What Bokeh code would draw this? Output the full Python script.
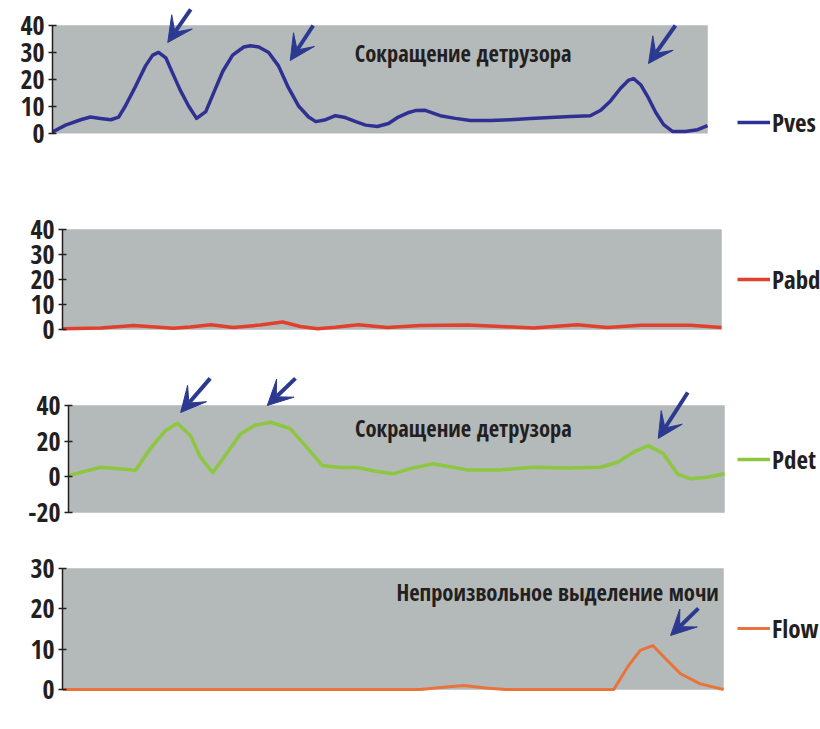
from bokeh.plotting import figure
from bokeh.models import (BoxAnnotation, Label, Arrow, VeeHead, Legend, LegendItem,
                          FixedTicker, Range1d)
from bokeh.embed import file_html
from bokeh.resources import INLINE

# ---------------- data (time in % of record) ----------------
pves_t = [0, 2, 4.3, 5.8, 7.3, 8.9, 10.1, 11.1, 12.7, 14.2, 15.3, 16.2, 17.3, 18.3, 19.5,
          20.8, 22.0, 23.4, 24.6, 26.0, 27.5, 29.2, 30.2, 31.5, 33.0, 34.5, 36.0, 37.6, 39.1,
          40.2, 41.7, 43.2, 44.7, 46.3, 47.8, 49.6, 51.3, 52.8, 54.4, 55.4, 56.9, 59.2, 61.5,
          63.8, 66.9, 69.9, 73.0, 76.0, 79.1, 82.1, 83.7, 85.2, 86.7, 87.9, 88.7, 89.8, 91.0,
          92.1, 93.3, 94.7, 96.6, 98.5, 100]
pves_v = [0.5, 3, 5, 6, 5.5, 5, 6, 10, 17.5, 25, 29, 30, 28, 22.5, 16,
          10, 5.5, 8, 15, 23, 29, 32, 32.5, 32, 30, 25, 17, 10, 6,
          4.3, 5, 6.5, 5.8, 4.3, 3, 2.5, 3.6, 6, 7.7, 8.4, 8.5, 6.5, 5.5,
          4.7, 4.7, 5, 5.5, 5.8, 6.2, 6.5, 8.5, 12, 16.6, 19.6, 20.3, 18, 13,
          7.7, 3.2, 0.6, 0.6, 1.3, 2.8]

pabd_t = [0, 5.8, 10.8, 14.1, 16.8, 19.4, 22.5, 25.9, 30.0, 33.4, 36.1, 38.7, 41.4, 44.9,
          49.3, 54.3, 61.5, 66.5, 71.5, 78.1, 82.7, 87.7, 95.3, 100]
pabd_v = [0.3, 0.6, 1.6, 1.0, 0.5, 1.0, 1.9, 0.8, 1.8, 3.0, 1.2, 0.3, 0.9, 1.9,
          0.8, 1.6, 1.8, 1.2, 0.6, 1.9, 0.8, 1.7, 1.7, 0.8]

pdet_t = [0, 4.9, 9.5, 10.2, 12.5, 14.8, 16.6, 18.6, 20.1, 22.0, 23.9, 26.2, 28.5, 30.8,
          33.8, 36.1, 38.7, 41.5, 44.1, 46.8, 49.5, 52.1, 55.6, 60.8, 65.9, 70.9, 76.1,
          81.1, 83.7, 86.1, 88.4, 90.7, 92.8, 94.8, 97.4, 100]
pdet_v = [0.7, 5.4, 4.0, 3.5, 16, 26, 30, 23, 11, 2.4, 12, 24, 29, 30.6,
          27, 17.5, 6.3, 5.2, 5.2, 3.1, 1.7, 4.6, 7.3, 3.9, 3.9, 5.4, 5.0,
          5.4, 8.2, 13.8, 17.5, 12.9, 1.7, -1.1, -0.2, 1.7]

flow_t = [0, 54.2, 57.2, 60.7, 64.0, 67.0, 83.4, 85.5, 87.4, 89.3, 91.5, 93.5, 96.5, 100]
flow_v = [0, 0, 0.5, 1.0, 0.4, 0, 0, 5.6, 9.7, 10.9, 7.2, 3.9, 1.4, 0]

series_names = ["Pves", "Pabd", "Pdet", "Flow"]
ticks_pves = [0, 10, 20, 30, 40]
ticks_pabd = [0, 10, 20, 30, 40]
ticks_pdet = [-20, 0, 20, 40]
ticks_flow = [0, 10, 20, 30]

note_contraction = "Сокращение детрузора"
note_leak = "Непроизвольное выделение мочи"

# ---------------- styling ----------------
FONT = "'Open Sans Condensed', 'DejaVu Sans Condensed', sans-serif"
TXT = "#231f20"
GRAY = "#b4b9b9"
ARROW = "#2b3990"
W = 820


def panel(fig_top, fig_bottom, frame_top, frame_bottom, gray_left, gray_right,
          v_lo, v_hi, y_lo_px, y_hi_px, ticks):
    sx = (gray_right - gray_left) / 100.0
    sy = (y_lo_px - y_hi_px) / float(v_hi - v_lo)
    x_end = (W - gray_left) / sx
    y_start = v_lo - (frame_bottom - y_lo_px) / sy
    y_end = v_hi + (y_hi_px - frame_top) / sy
    p = figure(width=W, height=fig_bottom - fig_top, output_backend="svg",
               toolbar_location=None, x_axis_location=None,
               x_range=Range1d(0, x_end), y_range=Range1d(y_start, y_end),
               min_border_left=gray_left, min_border_right=0,
               min_border_top=frame_top - fig_top,
               min_border_bottom=fig_bottom - frame_bottom)
    p.outline_line_color = None
    p.grid.visible = False
    p.background_fill_color = "white"
    p.border_fill_color = "white"
    ax = p.yaxis[0]
    ax.ticker = FixedTicker(ticks=ticks)
    ax.major_label_overrides = {t: str(t) for t in ticks}
    ax.bounds = (v_lo, v_hi)
    ax.axis_line_color = "#231f20"
    ax.axis_line_width = 1.5
    ax.major_tick_line_color = "#231f20"
    ax.major_tick_line_width = 1.5
    ax.major_tick_in = 4
    ax.major_tick_out = 4
    ax.minor_tick_line_color = None
    ax.major_label_text_font = FONT
    ax.major_label_text_font_size = "26px"
    ax.major_label_text_color = TXT
    ax.major_label_standoff = 4
    box = BoxAnnotation(left=0, right=100, bottom=v_lo, top=v_hi, fill_color=GRAY,
                        fill_alpha=1.0, line_color="#9ea3a3", line_width=1, level="underlay")
    p.add_layout(box)
    return p, (frame_top, frame_bottom, gray_left)


def add_legend(p, geo, r, name, y_center):
    frame_top, frame_bottom, gray_left = geo
    leg = Legend(items=[LegendItem(label=name, renderers=[r])],
                 location=(737 - gray_left, frame_bottom - y_center - 14),
                 background_fill_alpha=0, border_line_alpha=0, padding=0, margin=0,
                 glyph_width=33, glyph_height=28, label_height=28, label_standoff=2,
                 label_text_font=FONT, label_text_font_size="25px",
                 label_text_color=TXT)
    p.add_layout(leg)


def add_arrow(p, xs, ys, xe, ye):
    p.add_layout(Arrow(x_start=xs, y_start=ys, x_end=xe, y_end=ye,
                       line_color=ARROW, line_width=4,
                       end=VeeHead(size=25, fill_color=ARROW, line_color=ARROW, line_width=1)))


def add_note(p, x, y, text, size="23px"):
    p.add_layout(Label(x=x, y=y, text=text, text_align="center", text_baseline="middle",
                       text_font=FONT, text_font_size=size, text_color=TXT))


# Panel 1: Pves
p1, g1 = panel(0, 185, 0, 140, 52, 707, 0, 40, 132.7, 25, ticks_pves)
r1 = p1.line(pves_t, pves_v, line_color="#2e3192", line_width=3.5, line_join="round")
add_note(p1, 62.7, 29.6, note_contraction, size="22.5px")
add_arrow(p1, 21.1, 46.0, 17.6, 33.7)
add_arrow(p1, 39.8, 40.0, 36.3, 27.0)
add_arrow(p1, 95.1, 40.0, 91.0, 25.9)
add_legend(p1, g1, r1, series_names[0], 125)

# Panel 2: Pabd
p2, g2 = panel(185, 360, 195, 335, 62, 721, 0, 40, 329, 229, ticks_pabd)
r2 = p2.line(pabd_t, pabd_v, line_color="#e0412e", line_width=3.5, line_join="round")
add_legend(p2, g2, r2, series_names[1], 282)

# Panel 3: Pdet
p3, g3 = panel(360, 540, 370, 515, 68, 724, -20, 40, 512, 405, ticks_pdet)
r3 = p3.line(pdet_t, pdet_v, line_color="#8dc63f", line_width=3.5, line_join="round")
add_note(p3, 60.2, 27.0, note_contraction, size="22.5px")
add_arrow(p3, 21.6, 55.2, 17.1, 36.1)
add_arrow(p3, 34.6, 55.2, 30.3, 40.0)
add_arrow(p3, 94.4, 47.3, 89.9, 21.5)
add_legend(p3, g3, r3, series_names[2], 462)

# Panel 4: Flow
p4, g4 = panel(540, 725, 555, 695, 62, 723, 0, 30, 689, 568, ticks_flow)
r4 = p4.line(flow_t, flow_v, line_color="#e8743b", line_width=3, line_join="round")
add_note(p4, 74.9, 24.0, note_leak, size="22.5px")
add_arrow(p4, 96.2, 20.1, 92.0, 13.4)
add_legend(p4, g4, r4, series_names[3], 631)

open("out.html", "w").write(file_html([p1, p2, p3, p4], INLINE))
